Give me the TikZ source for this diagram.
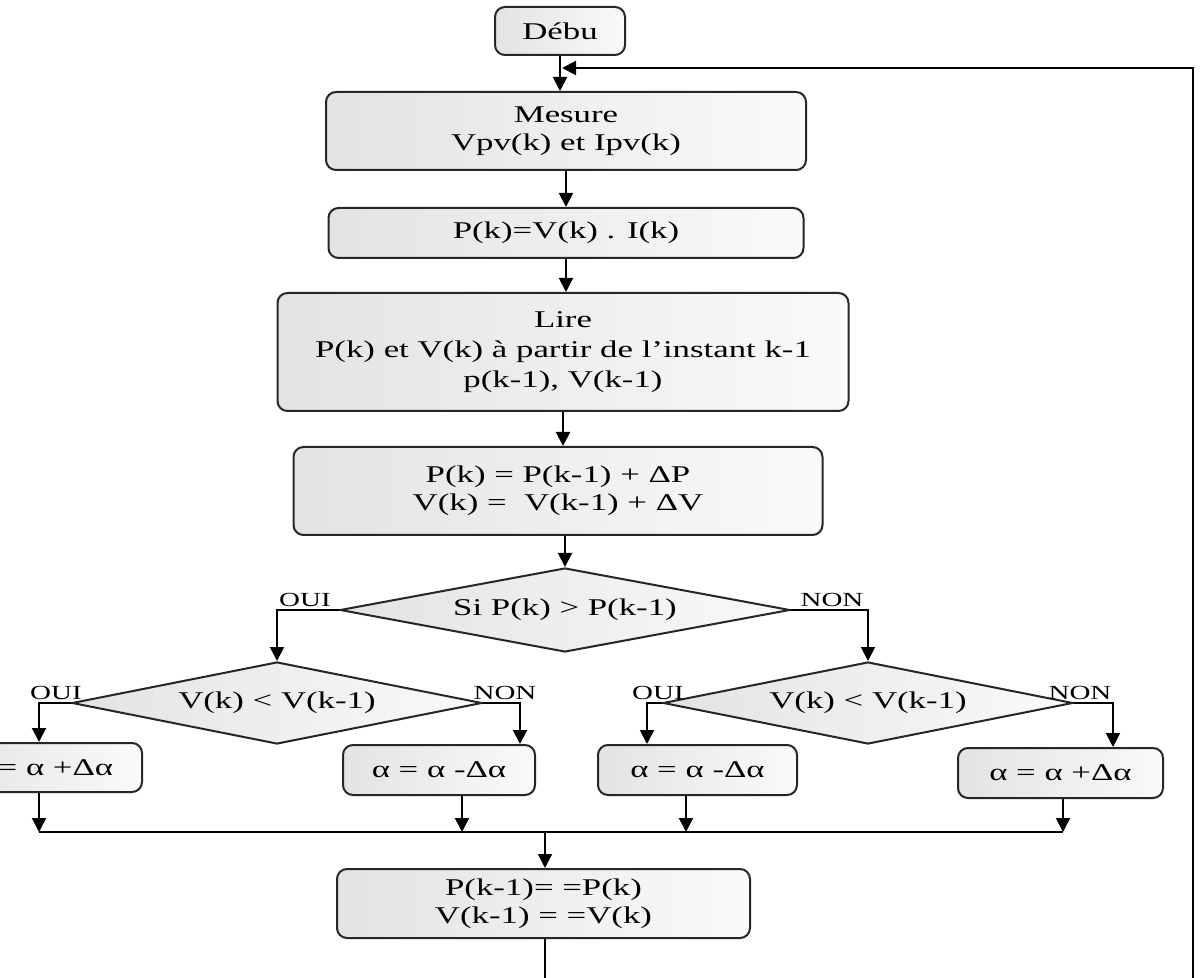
\documentclass[tikz,border=0pt]{standalone}
\usepackage{fontspec}
\setmainfont{Liberation Serif}[FakeStretch=1.45]
\usetikzlibrary{shapes.geometric,arrows.meta}
\begin{document}
\begin{tikzpicture}[x=0.5pt,y=-0.5pt,
  proc/.style={draw=black!85, line width=1pt, rounded corners=5pt,
    left color=black!11, right color=black!2, align=center, inner sep=0pt,
    font=\fontsize{12}{14}\selectfont},
  dec/.style={diamond, draw=black!85, line width=1pt,
    left color=black!11, right color=black!2, inner sep=0pt,
    font=\fontsize{12}{14}\selectfont},
  arr/.style={line width=1pt, -{Triangle[length=7pt,width=7pt]}},
  plain/.style={line width=1pt},
  lbl/.style={font=\fontsize{10}{12}\selectfont, inner sep=0pt, anchor=base}]
\useasboundingbox (0,0) rectangle (1200,978);
\clip (0,0) rectangle (1200,978);
\fill[white] (0,0) rectangle (1200,978);

% process boxes
\node[proc, minimum width=65pt, minimum height=24pt] (debut) at (560,31) {Débu};
\node[proc, minimum width=240pt, minimum height=39pt] (mesure) at (566,131) {Mesure\\Vpv(k) et Ipv(k)};
\node[proc, minimum width=237.5pt, minimum height=25pt] (pk) at (566,233) {P(k)=V(k) . I(k)};
\node[proc, minimum width=285.5pt, minimum height=59pt] (lire) at (563,352) {Lire\\[1pt]P(k) et V(k) à partir de l’instant k-1\\[1pt]p(k-1), V(k-1)};
\node[proc, minimum width=264.5pt, minimum height=44pt] (eq) at (558,491) {P(k) = P(k-1) + ΔP\\V(k) =~~V(k-1) + ΔV};

% decisions
\node[dec, aspect=5.36, minimum width=225pt, minimum height=42pt] (d1) at (565,610) {Si P(k) > P(k-1)};
\node[dec, aspect=5, minimum width=205pt, minimum height=41pt] (d2) at (277,703) {V(k) < V(k-1)};
\node[dec, aspect=5, minimum width=205pt, minimum height=41pt] (d3) at (868,703) {V(k) < V(k-1)};

% alpha boxes
\node[proc, minimum width=100pt, minimum height=24.5pt] (ba) at (42,767.5) {α = α +Δα};
\node[proc, minimum width=96pt, minimum height=25pt] (bb) at (439,770) {α = α -Δα};
\node[proc, minimum width=99.5pt, minimum height=25pt] (bc) at (697.5,770) {α = α -Δα};
\node[proc, minimum width=102.5pt, minimum height=25pt] (bd) at (1060.5,773) {α = α +Δα};

% final box
\node[proc, minimum width=206.5pt, minimum height=34.5pt] (fin) at (543.5,903.5) {P(k-1)= =P(k)\\V(k-1) = =V(k)};

% labels
\node[lbl] (oui1) at (305,606) {OUI};
\node[lbl] (non1) at (832,606) {NON};
\node[lbl] (oui2) at (56,699) {OUI};
\node[lbl] (non2) at (505,699) {NON};
\node[lbl] (oui3) at (658,699) {OUI};
\node[lbl] (non3) at (1080,699) {NON};

% coordinates
\coordinate (fbtop) at (1193,68);
\coordinate (fbbot) at (1193,978);
\coordinate (fbin) at (562,68);
\coordinate (d1l) at (277,610);
\coordinate (d1r) at (868,610);
\coordinate (d2l) at (39,703);
\coordinate (d2r) at (520,703);
\coordinate (d3l) at (647,703);
\coordinate (d3r) at (1113,703);
\coordinate (ml) at (39,832);
\coordinate (mb) at (462,832);
\coordinate (mc) at (686,832);
\coordinate (mr) at (1063,832);
\coordinate (mf) at (545,832);
\coordinate (bot) at (545,978);

% main flow
\draw[arr] (debut.south) -- (debut.south |- mesure.north);
\draw[arr] (mesure.south) -- (pk.north);
\draw[arr] (pk.south) -- (pk.south |- lire.north);
\draw[arr] (lire.south) -- (lire.south |- eq.north);
\draw[arr] (d1.north |- eq.south) -- (d1.north);

% feedback
\draw[arr] (fbbot) -- (fbtop) -- (fbin);

% branches
\draw[arr] (d1.west) -- (d1l) -- (d2.north);
\draw[arr] (d1.east) -- (d1r) -- (d3.north);
\draw[arr] (d2.west) -- (d2l) -- (d2l |- ba.north);
\draw[arr] (d2.east) -- (d2r) -- (d2r |- bb.north);
\draw[arr] (d3.west) -- (d3l) -- (d3l |- bc.north);
\draw[arr] (d3.east) -- (d3r) -- (d3r |- bd.north);

% merge
\draw[plain] (ml) -- (mr);
\draw[arr] (ml |- ba.south) -- (ml);
\draw[arr] (mb |- bb.south) -- (mb);
\draw[arr] (mc |- bc.south) -- (mc);
\draw[arr] (mr |- bd.south) -- (mr);
\draw[arr] (mf) -- (mf |- fin.north);
\draw[plain] (fin.south -| bot) -- (bot);
\end{tikzpicture}
\end{document}
